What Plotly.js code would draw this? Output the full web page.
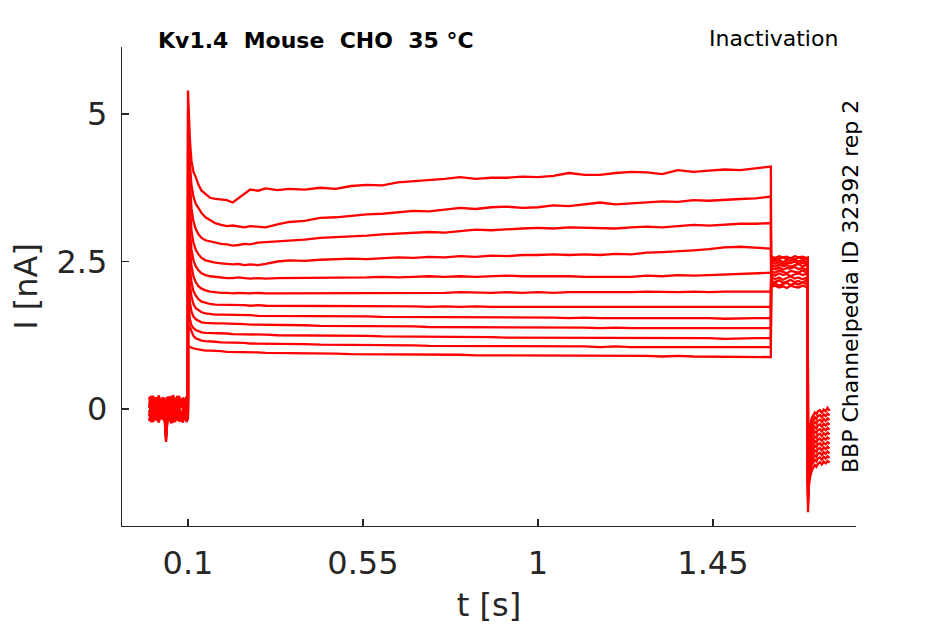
<!DOCTYPE html>
<html>
<head>
<meta charset="utf-8">
<script src="https://cdn.plot.ly/plotly-3.0.1.min.js"></script>
<style>
  body { margin: 0; background: #fff; }
  #plot { width: 945px; height: 624px; }
</style>
</head>
<body>
<div id="plot"></div>
<script>
// time bases of the four protocol segments (s)
var tBase = [0.000, 0.005, 0.010, 0.015, 0.020, 0.025, 0.030, 0.035, 0.040, 0.0435, 0.047,
             0.052, 0.057, 0.062, 0.067, 0.072, 0.077, 0.082, 0.087, 0.092, 0.097, 0.0999];
var tMain = [0.1, 0.102, 0.105, 0.109, 0.114, 0.12, 0.127, 0.135, 0.145, 0.157,
             0.17, 0.185, 0.2, 0.215, 0.23, 0.245, 0.26, 0.28, 0.3, 0.33,
             0.36, 0.4, 0.44, 0.48, 0.52, 0.56, 0.6, 0.64, 0.68, 0.72,
             0.76, 0.8, 0.84, 0.88, 0.92, 0.96, 1.0, 1.04, 1.08, 1.12,
             1.16, 1.2, 1.24, 1.28, 1.32, 1.36, 1.4, 1.44, 1.48, 1.52,
             1.56, 1.599];
var tTest = [1.600, 1.610, 1.620, 1.630, 1.640, 1.650, 1.660, 1.670, 1.680, 1.690, 1.694];
var tTail = [1.6945, 1.697, 1.700, 1.704, 1.708, 1.712, 1.716, 1.720, 1.725, 1.730, 1.735, 1.740, 1.745, 1.750];

// currents (nA), one row per sweep
var baseI = [
  [0.10, -0.05, 0.15, 0.02, 0.18, -0.02, 0.12, 0.05, 0.16, -0.50, 0.08, 0.20, 0.00, 0.14, 0.06, 0.19, -0.01, 0.13, 0.04, 0.17, 0.02, 0.10],
  [-0.12, 0.05, -0.18, 0.02, -0.10, -0.20, 0.04, -0.14, -0.05, -0.56, -0.16, 0.00, -0.19, -0.06, -0.15, 0.03, -0.12, -0.20, -0.02, -0.13, -0.17, -0.08],
  [0.20, 0.08, 0.22, 0.12, 0.05, 0.21, 0.10, 0.18, 0.07, -0.40, 0.19, 0.11, 0.22, 0.06, 0.17, 0.09, 0.21, 0.04, 0.15, 0.10, 0.20, 0.12],
  [-0.20, -0.08, -0.22, -0.15, -0.04, -0.21, -0.10, -0.18, -0.12, -0.45, -0.22, -0.09, -0.17, -0.23, -0.06, -0.19, -0.13, -0.21, -0.08, -0.16, -0.22, -0.14],
  [0.02, 0.12, -0.04, 0.08, 0.15, 0.00, 0.10, -0.06, 0.13, -0.35, 0.05, -0.03, 0.11, 0.01, 0.14, -0.05, 0.09, 0.03, 0.12, -0.02, 0.07, 0.04],
  [-0.06, 0.04, -0.12, -0.02, 0.06, -0.10, 0.00, -0.08, 0.03, -0.38, -0.11, 0.05, -0.04, -0.13, 0.02, -0.07, 0.04, -0.12, -0.01, 0.05, -0.09, -0.03],
  [0.14, 0.06, 0.18, 0.09, 0.20, 0.03, 0.15, 0.11, 0.19, -0.30, 0.13, 0.21, 0.07, 0.16, 0.10, 0.22, 0.05, 0.17, 0.12, 0.08, 0.18, 0.14],
  [-0.15, -0.22, -0.07, -0.17, -0.11, -0.23, -0.05, -0.16, -0.20, -0.52, -0.09, -0.18, -0.24, -0.12, -0.19, -0.06, -0.21, -0.14, -0.23, -0.10, -0.18, -0.16],
  [0.06, -0.02, 0.10, 0.16, 0.01, 0.09, -0.03, 0.12, 0.04, -0.33, 0.00, 0.11, 0.06, -0.04, 0.13, 0.02, 0.08, 0.15, -0.01, 0.09, 0.05, 0.07],
  [-0.02, -0.10, 0.03, -0.07, -0.14, 0.01, -0.05, -0.12, 0.00, -0.42, -0.08, -0.01, -0.13, 0.02, -0.09, -0.15, -0.03, -0.06, -0.11, 0.01, -0.07, -0.04],
  [0.17, 0.22, 0.09, 0.19, 0.13, 0.23, 0.08, 0.20, 0.14, -0.28, 0.21, 0.10, 0.18, 0.23, 0.12, 0.16, 0.22, 0.07, 0.19, 0.15, 0.21, 0.18],
  [-0.09, -0.18, -0.03, -0.13, -0.20, -0.07, -0.16, -0.01, -0.11, -0.47, -0.19, -0.05, -0.14, -0.09, -0.22, -0.04, -0.15, -0.08, -0.17, -0.12, -0.02, -0.10]
];

var mainI = [
  [5.40, 5.00, 4.55, 4.20, 4.02, 3.93, 3.80, 3.70, 3.64, 3.58, 3.56, 3.55, 3.54, 3.50, 3.57, 3.65, 3.72, 3.70, 3.74, 3.71,
   3.73, 3.72, 3.75, 3.73, 3.78, 3.80, 3.79, 3.84, 3.86, 3.87, 3.90, 3.93, 3.90, 3.92, 3.92, 3.94, 3.93, 3.95, 4.00, 3.97,
   3.97, 4.00, 4.02, 4.01, 3.98, 4.05, 4.02, 4.04, 4.06, 4.05, 4.08, 4.11],
  [5.05, 4.60, 4.15, 3.80, 3.60, 3.48, 3.40, 3.32, 3.25, 3.20, 3.15, 3.12, 3.10, 3.11, 3.09, 3.08, 3.10, 3.09, 3.08, 3.13,
   3.17, 3.19, 3.24, 3.25, 3.28, 3.30, 3.31, 3.33, 3.36, 3.35, 3.38, 3.41, 3.39, 3.42, 3.43, 3.41, 3.42, 3.45, 3.44, 3.47,
   3.50, 3.47, 3.49, 3.50, 3.52, 3.51, 3.54, 3.53, 3.55, 3.56, 3.57, 3.60],
  [4.70, 4.20, 3.75, 3.40, 3.18, 3.05, 2.96, 2.90, 2.86, 2.84, 2.82, 2.80, 2.79, 2.77, 2.78, 2.80, 2.79, 2.82, 2.83, 2.84,
   2.86, 2.87, 2.90, 2.91, 2.93, 2.94, 2.96, 2.97, 2.98, 3.00, 2.99, 3.02, 3.04, 3.03, 3.05, 3.06, 3.07, 3.06, 3.08, 3.07,
   3.07, 3.06, 3.08, 3.09, 3.08, 3.10, 3.12, 3.11, 3.13, 3.14, 3.14, 3.15],
  [4.35, 3.80, 3.35, 3.02, 2.82, 2.70, 2.62, 2.56, 2.52, 2.50, 2.48, 2.47, 2.46, 2.45, 2.46, 2.44, 2.45, 2.44, 2.46, 2.50,
   2.52, 2.51, 2.53, 2.54, 2.55, 2.54, 2.56, 2.57, 2.56, 2.58, 2.57, 2.59, 2.58, 2.60, 2.59, 2.61, 2.61, 2.62, 2.61, 2.62,
   2.61, 2.63, 2.62, 2.65, 2.66, 2.67, 2.69, 2.71, 2.74, 2.75, 2.73, 2.72],
  [4.00, 3.45, 3.00, 2.70, 2.52, 2.42, 2.35, 2.30, 2.27, 2.25, 2.24, 2.23, 2.22, 2.22, 2.23, 2.22, 2.21, 2.22, 2.21, 2.22,
   2.22, 2.23, 2.22, 2.23, 2.22, 2.23, 2.24, 2.23, 2.24, 2.25, 2.24, 2.25, 2.24, 2.25, 2.26, 2.25, 2.25, 2.26, 2.25, 2.24,
   2.24, 2.25, 2.24, 2.26, 2.25, 2.27, 2.26, 2.27, 2.28, 2.28, 2.30, 2.31],
  [3.60, 3.10, 2.70, 2.42, 2.25, 2.15, 2.08, 2.04, 2.01, 1.99, 1.98, 1.97, 1.97, 1.96, 1.97, 1.96, 1.96, 1.97, 1.96, 1.96,
   1.96, 1.97, 1.96, 1.96, 1.97, 1.96, 1.97, 1.97, 1.96, 1.97, 1.97, 1.98, 1.97, 1.97, 1.98, 1.97, 1.98, 1.97, 1.98, 1.98,
   1.97, 1.98, 1.98, 1.99, 1.98, 1.98, 1.99, 1.98, 1.99, 1.99, 1.99, 1.99],
  [3.20, 2.75, 2.40, 2.15, 2.00, 1.92, 1.86, 1.82, 1.80, 1.78, 1.77, 1.77, 1.76, 1.76, 1.76, 1.76, 1.75, 1.76, 1.75, 1.75,
   1.75, 1.75, 1.75, 1.74, 1.75, 1.74, 1.74, 1.74, 1.74, 1.73, 1.74, 1.73, 1.74, 1.73, 1.73, 1.73, 1.73, 1.72, 1.73, 1.72,
   1.72, 1.73, 1.72, 1.73, 1.72, 1.73, 1.73, 1.72, 1.73, 1.73, 1.72, 1.73],
  [2.80, 2.40, 2.10, 1.90, 1.78, 1.71, 1.67, 1.64, 1.62, 1.61, 1.60, 1.60, 1.60, 1.59, 1.59, 1.59, 1.59, 1.58, 1.58, 1.58,
   1.58, 1.58, 1.57, 1.57, 1.57, 1.57, 1.56, 1.56, 1.56, 1.56, 1.56, 1.55, 1.56, 1.55, 1.55, 1.55, 1.55, 1.55, 1.54, 1.55,
   1.54, 1.54, 1.55, 1.54, 1.54, 1.54, 1.54, 1.54, 1.53, 1.54, 1.54, 1.54],
  [2.35, 2.05, 1.80, 1.65, 1.57, 1.52, 1.49, 1.47, 1.46, 1.45, 1.45, 1.45, 1.45, 1.44, 1.44, 1.44, 1.43, 1.43, 1.43, 1.42,
   1.42, 1.42, 1.41, 1.41, 1.41, 1.40, 1.40, 1.40, 1.40, 1.39, 1.39, 1.39, 1.39, 1.38, 1.39, 1.38, 1.38, 1.38, 1.38, 1.38,
   1.37, 1.38, 1.37, 1.37, 1.37, 1.37, 1.37, 1.37, 1.36, 1.37, 1.37, 1.37],
  [1.90, 1.68, 1.52, 1.42, 1.37, 1.34, 1.32, 1.30, 1.29, 1.29, 1.28, 1.28, 1.28, 1.27, 1.27, 1.27, 1.26, 1.26, 1.26, 1.25,
   1.25, 1.25, 1.24, 1.24, 1.24, 1.24, 1.23, 1.23, 1.23, 1.22, 1.22, 1.22, 1.22, 1.22, 1.21, 1.21, 1.21, 1.21, 1.21, 1.21,
   1.20, 1.21, 1.20, 1.20, 1.20, 1.20, 1.20, 1.20, 1.19, 1.20, 1.20, 1.20],
  [1.35, 1.42, 1.38, 1.30, 1.24, 1.20, 1.18, 1.16, 1.15, 1.14, 1.14, 1.13, 1.13, 1.12, 1.12, 1.12, 1.11, 1.11, 1.11, 1.10,
   1.10, 1.10, 1.09, 1.09, 1.09, 1.08, 1.08, 1.08, 1.08, 1.07, 1.07, 1.07, 1.07, 1.07, 1.06, 1.06, 1.06, 1.06, 1.06, 1.06,
   1.05, 1.06, 1.05, 1.05, 1.05, 1.05, 1.05, 1.05, 1.04, 1.05, 1.05, 1.05],
  [1.08, 1.06, 1.05, 1.04, 1.03, 1.02, 1.01, 1.00, 0.99, 0.99, 0.98, 0.98, 0.97, 0.97, 0.97, 0.96, 0.96, 0.96, 0.95, 0.95,
   0.95, 0.94, 0.94, 0.94, 0.93, 0.93, 0.93, 0.93, 0.92, 0.92, 0.92, 0.92, 0.91, 0.91, 0.91, 0.91, 0.91, 0.91, 0.90, 0.90,
   0.90, 0.90, 0.90, 0.90, 0.89, 0.90, 0.89, 0.89, 0.89, 0.89, 0.89, 0.88]
];

var testI = [
  [2.24, 2.20, 2.23, 2.19, 2.22, 2.25, 2.21, 2.23, 2.20, 2.22, 2.21],
  [2.10, 2.13, 2.09, 2.12, 2.14, 2.10, 2.13, 2.11, 2.14, 2.12, 2.11],
  [2.17, 2.15, 2.18, 2.14, 2.16, 2.19, 2.15, 2.17, 2.14, 2.18, 2.16],
  [2.07, 2.09, 2.06, 2.08, 2.05, 2.09, 2.07, 2.06, 2.09, 2.07, 2.08],
  [2.29, 2.26, 2.30, 2.27, 2.29, 2.25, 2.28, 2.30, 2.27, 2.29, 2.28],
  [2.34, 2.31, 2.35, 2.32, 2.30, 2.34, 2.33, 2.31, 2.35, 2.32, 2.33],
  [2.39, 2.37, 2.40, 2.36, 2.39, 2.38, 2.41, 2.37, 2.39, 2.36, 2.38],
  [2.44, 2.41, 2.45, 2.42, 2.44, 2.41, 2.43, 2.46, 2.42, 2.44, 2.43],
  [2.48, 2.46, 2.49, 2.45, 2.48, 2.47, 2.50, 2.46, 2.48, 2.45, 2.47],
  [2.52, 2.50, 2.53, 2.49, 2.52, 2.51, 2.54, 2.50, 2.52, 2.49, 2.51],
  [2.56, 2.53, 2.55, 2.57, 2.54, 2.56, 2.53, 2.57, 2.55, 2.54, 2.56],
  [2.58, 2.56, 2.59, 2.57, 2.58, 2.55, 2.59, 2.57, 2.58, 2.56, 2.57]
];

var tailI = [
  [-1.75, -1.30, -1.15, -1.05, -1.00, -0.95, -0.98, -0.93, -0.90, -0.94, -0.89, -0.92, -0.88, -0.91],
  [-1.62, -1.20, -1.05, -0.95, -0.90, -0.86, -0.89, -0.84, -0.82, -0.86, -0.81, -0.84, -0.80, -0.83],
  [-1.55, -1.12, -0.97, -0.88, -0.82, -0.78, -0.81, -0.76, -0.74, -0.78, -0.73, -0.76, -0.72, -0.75],
  [-1.50, -1.05, -0.90, -0.80, -0.74, -0.70, -0.73, -0.68, -0.66, -0.70, -0.65, -0.68, -0.64, -0.67],
  [-1.45, -0.98, -0.82, -0.72, -0.66, -0.62, -0.65, -0.60, -0.58, -0.62, -0.57, -0.60, -0.56, -0.59],
  [-1.40, -0.90, -0.74, -0.64, -0.58, -0.54, -0.57, -0.52, -0.50, -0.54, -0.49, -0.52, -0.48, -0.51],
  [-1.35, -0.82, -0.66, -0.56, -0.50, -0.46, -0.49, -0.44, -0.42, -0.46, -0.41, -0.44, -0.40, -0.43],
  [-1.32, -0.75, -0.58, -0.48, -0.42, -0.38, -0.41, -0.36, -0.34, -0.38, -0.33, -0.36, -0.32, -0.35],
  [-1.28, -0.68, -0.50, -0.40, -0.34, -0.30, -0.33, -0.28, -0.26, -0.30, -0.25, -0.28, -0.24, -0.27],
  [-1.25, -0.60, -0.42, -0.32, -0.26, -0.22, -0.25, -0.20, -0.18, -0.22, -0.17, -0.20, -0.16, -0.19],
  [-1.22, -0.52, -0.34, -0.24, -0.18, -0.14, -0.17, -0.12, -0.10, -0.14, -0.09, -0.12, -0.08, -0.11],
  [-1.20, -0.45, -0.26, -0.16, -0.10, -0.06, -0.09, -0.04, -0.02, -0.06, -0.01, -0.04, 0.02, -0.03]
];

var xTickVals = [0.1, 0.55, 1, 1.45];
var xTickText = ['0.1', '0.55', '1', '1.45'];
var yTickVals = [0, 2.5, 5];
var yTickText = ['0', '2.5', '5'];

var axisColor = '#262626';
var font = 'DejaVu Sans, Liberation Sans, sans-serif';

var tAll = tBase.concat(tMain, tTest, tTail);
var data = [];
for (var i = 0; i < mainI.length; i++) {
  data.push({
    x: tAll,
    y: baseI[i].concat(mainI[i], testI[i], tailI[i]),
    type: 'scatter',
    mode: 'lines',
    line: {color: '#ff0000', width: 2.3},
    hoverinfo: 'skip'
  });
}

var axisBase = {
  showgrid: false,
  zeroline: false,
  showline: true,
  linecolor: axisColor,
  linewidth: 1.3,
  ticks: 'inside',
  ticklen: 7,
  tickwidth: 1.3,
  tickcolor: axisColor,
  tickfont: {family: font, size: 32, color: axisColor}
};

var layout = {
  width: 945,
  height: 624,
  margin: {l: 122, r: 89, t: 47, b: 98},
  paper_bgcolor: '#ffffff',
  plot_bgcolor: '#ffffff',
  showlegend: false,
  font: {family: font, color: axisColor},
  xaxis: Object.assign({}, axisBase, {
    range: [-0.0697, 1.818],
    tickvals: xTickVals,
    ticktext: xTickText,
    ticklabelstandoff: 8,
    title: {text: 't [s]', font: {family: font, size: 32, color: axisColor}, standoff: 14}
  }),
  yaxis: Object.assign({}, axisBase, {
    range: [-1.983, 6.136],
    tickvals: yTickVals,
    ticktext: yTickText,
    ticklabelstandoff: 7,
    title: {text: 'I [nA]', font: {family: font, size: 32, color: axisColor}, standoff: 9}
  }),
  annotations: [
    {
      text: '<b>Kv1.4\u00a0\u00a0Mouse\u00a0\u00a0CHO\u00a0\u00a035 °C</b>',
      xref: 'paper', yref: 'paper', x: 0.047, y: 1.0146,
      xanchor: 'left', yanchor: 'middle', showarrow: false,
      font: {family: font, size: 22, color: '#000000'}
    },
    {
      text: 'Inactivation',
      xref: 'paper', yref: 'paper', x: 0.978, y: 1.017,
      xanchor: 'right', yanchor: 'middle', showarrow: false,
      font: {family: font, size: 22, color: '#000000'}
    },
    {
      text: 'BBP Channelpedia ID 32392 rep 2',
      xref: 'paper', yref: 'paper', x: 0.9918, y: 0.501,
      xanchor: 'center', yanchor: 'middle', showarrow: false, textangle: -90,
      font: {family: font, size: 22, color: '#000000'}
    }
  ]
};

Plotly.newPlot('plot', data, layout, {staticPlot: true, displayModeBar: false});
</script>
</body>
</html>
